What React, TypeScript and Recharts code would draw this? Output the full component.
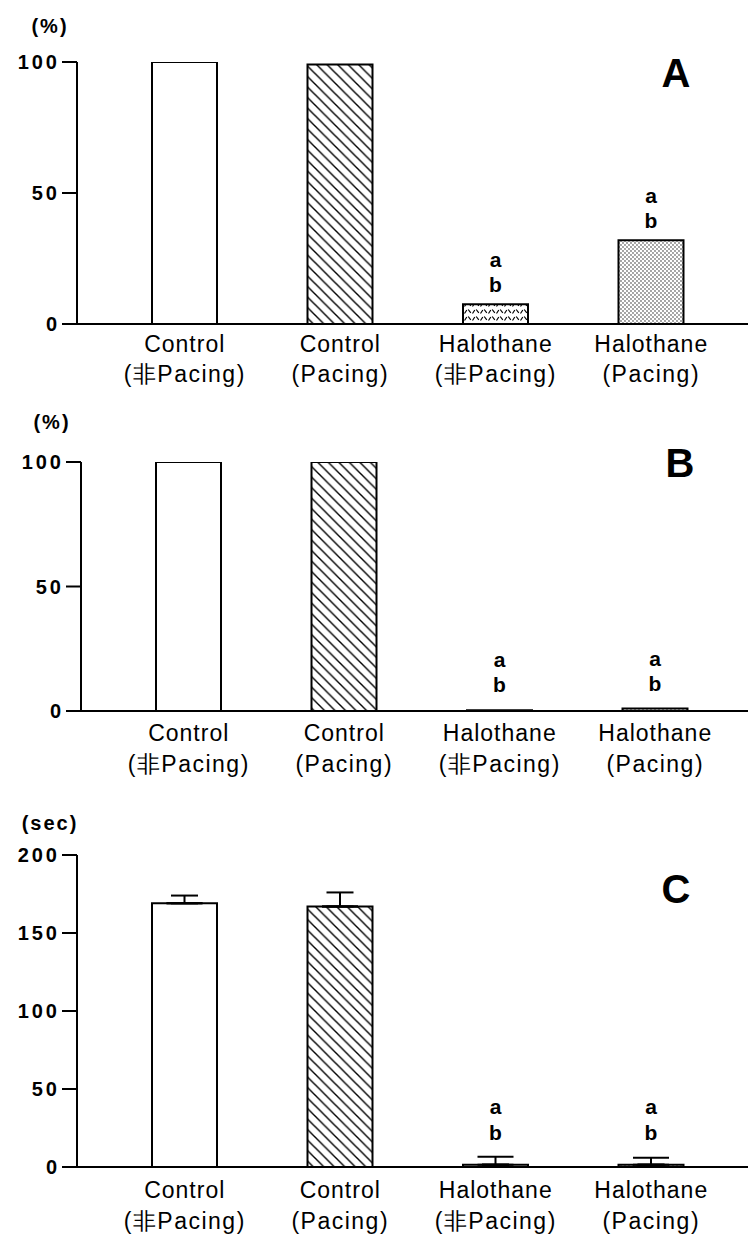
import React from 'react';
import { BarChart, Bar, XAxis, YAxis, Cell, ErrorBar, LabelList } from 'recharts';

// categories (two lines per tick)
const groups = ['Control', 'Control', 'Halothane', 'Halothane'];
const conditions = ['(非Pacing)', '(Pacing)', '(非Pacing)', '(Pacing)'];
const marks = ['', '', 'ab', 'ab'];

// values
const panelAValues = [100, 99, 7.5, 32];
const panelBValues = [100, 100, 0.3, 1];
const panelCValues = [169, 167, 1.5, 1.5];
const panelCErrors = [5, 9, 5, 4.5];

const percentTicks = [0, 50, 100];
const secTicks = [0, 50, 100, 150, 200];

const FONT = '"Liberation Sans", Arial, sans-serif';

const buildData = (values: number[], errors?: number[]) =>
  values.map((v, i) => ({
    name: `${groups[i]} ${conditions[i]} ${i}`,
    value: v,
    mark: marks[i],
    errCtl: errors && i < 2 ? [0, errors[i]] : [0, 0],
    errHal: errors && i >= 2 ? [0, errors[i]] : [0, 0],
  }));

const Patterns = ({ id }: { id: string }) => (
  <defs>
    <pattern id={`${id}-hatch`} patternUnits="userSpaceOnUse" width={10.5} height={10.5}>
      <path d="M0,0 L10.5,10.5 M-5.25,5.25 L5.25,15.75 M5.25,-5.25 L15.75,5.25" stroke="#000" strokeWidth={1.4} />
    </pattern>
    <pattern id={`${id}-chev`} patternUnits="userSpaceOnUse" width={8} height={7}>
      <path d="M0.5,5.5 L2.8,2 M4.2,1.5 L6.8,4.8" stroke="#000" strokeWidth={1.2} />
    </pattern>
    <pattern id={`${id}-dots`} patternUnits="userSpaceOnUse" width={4} height={4}>
      <circle cx={1} cy={1} r={0.65} fill="#000" />
      <circle cx={3} cy={3} r={0.65} fill="#000" />
    </pattern>
  </defs>
);

const CategoryTick = (props: any) => {
  const { x, y, payload, line1, line2 } = props;
  const i = props.index ?? payload.index;
  return (
    <g>
      <text x={x} y={y + line1} textAnchor="middle" fontSize={23} fill="#000" style={{ letterSpacing: '1px' }}>
        {groups[i]}
      </text>
      <text x={x} y={y + line2} textAnchor="middle" fontSize={23} fill="#000" style={{ letterSpacing: '1.5px' }}>
        {conditions[i]}
      </text>
    </g>
  );
};

const ValueTick = (props: any) => {
  const { x, y, payload } = props;
  return (
    <text x={x} y={y + 7} textAnchor="end" fontSize={20} fontWeight="bold" fill="#000" style={{ letterSpacing: '3px' }}>
      {payload.value}
    </text>
  );
};

type PanelProps = {
  id: string;
  top: number;
  left: number;
  height: number;
  marginTop: number;
  marginBottom: number;
  values: number[];
  errors?: number[];
  ticks: number[];
  unit: string;
  unitX: number;
  unitY: number;
  letter: string;
  letterY: number;
  lines: [number, number];
  markOffsets: [number, number];
};

const Panel = (p: PanelProps) => {
  const data = buildData(p.values, p.errors);
  const fills = ['#fff', `url(#${p.id}-hatch)`, `url(#${p.id}-chev)`, `url(#${p.id}-dots)`];
  const max = p.ticks[p.ticks.length - 1];
  return (
    <div style={{ position: 'absolute', top: p.top, left: p.left, width: 748, height: p.height }}>
      <BarChart
        width={748}
        height={p.height}
        data={data}
        margin={{ top: p.marginTop, right: 0, left: 0, bottom: p.marginBottom }}
        barSize={65}
      >
        <Patterns id={p.id} />
        <XAxis
          dataKey="name"
          height={60}
          padding={{ left: 30, right: 19 }}
          axisLine={{ stroke: '#000', strokeWidth: 2 }}
          tickLine={false}
          tickSize={0}
          tickMargin={0}
          interval={0}
          tick={<CategoryTick line1={p.lines[0]} line2={p.lines[1]} />}
        />
        <YAxis
          width={77}
          domain={[0, max]}
          ticks={p.ticks}
          interval={0}
          allowDataOverflow
          axisLine={{ stroke: '#000', strokeWidth: 2 }}
          tickLine={{ stroke: '#000', strokeWidth: 2 }}
          tickSize={15}
          tickMargin={2}
          tick={<ValueTick />}
        />
        <Bar dataKey="value" isAnimationActive={false}>
          {data.map((_, i) => (
            <Cell key={i} fill={fills[i]} stroke="#000" strokeWidth={2} />
          ))}
          {p.errors && (
            <ErrorBar dataKey="errCtl" width={13.5} stroke="#000" strokeWidth={2} isAnimationActive={false} />
          )}
          {p.errors && (
            <ErrorBar dataKey="errHal" width={18} stroke="#000" strokeWidth={2} isAnimationActive={false} />
          )}
          <LabelList
            dataKey="mark"
            content={(lp: any) =>
              lp.value ? (
                <g>
                  <text x={lp.x + lp.width / 2} y={lp.y - p.markOffsets[1]} textAnchor="middle" fontSize={21} fontWeight="bold" fill="#000">
                    a
                  </text>
                  <text x={lp.x + lp.width / 2} y={lp.y - p.markOffsets[0]} textAnchor="middle" fontSize={21} fontWeight="bold" fill="#000">
                    b
                  </text>
                </g>
              ) : null
            }
          />
        </Bar>
      </BarChart>
      <svg width={748} height={p.height} style={{ position: 'absolute', top: 0, left: 0, pointerEvents: 'none' }}>
        <text x={p.unitX} y={p.unitY} textAnchor="middle" fontSize={20} fontWeight="bold" fill="#000" style={{ letterSpacing: '2px' }}>
          {p.unit}
        </text>
        <text x={676} y={p.letterY} textAnchor="middle" fontSize={40} fontWeight="bold" fill="#000">
          {p.letter}
        </text>
      </svg>
    </div>
  );
};

export default function App() {
  return (
    <div
      style={{
        position: 'absolute',
        top: 0,
        left: 0,
        width: 748,
        height: 1236,
        overflow: 'hidden',
        background: '#fff',
        fontFamily: FONT,
      }}
    >
      <Panel
        id="pa"
        top={0}
        left={0}
        height={390}
        marginTop={62}
        marginBottom={6}
        values={panelAValues}
        ticks={percentTicks}
        unit="(%)"
        unitX={50}
        unitY={33}
        letter="A"
        letterY={87}
        lines={[28, 58]}
        markOffsets={[12, 37]}
      />
      <Panel
        id="pb"
        top={390}
        left={4}
        height={390}
        marginTop={72}
        marginBottom={9}
        values={panelBValues}
        ticks={percentTicks}
        unit="(%)"
        unitX={48}
        unitY={39}
        letter="B"
        letterY={87}
        lines={[30, 61]}
        markOffsets={[18, 43]}
      />
      <Panel
        id="pc"
        top={780}
        left={0}
        height={456}
        marginTop={75}
        marginBottom={9}
        values={panelCValues}
        errors={panelCErrors}
        ticks={secTicks}
        unit="(sec)"
        unitX={50}
        unitY={50}
        letter="C"
        letterY={123}
        lines={[31, 62]}
        markOffsets={[25, 51]}
      />
    </div>
  );
}
